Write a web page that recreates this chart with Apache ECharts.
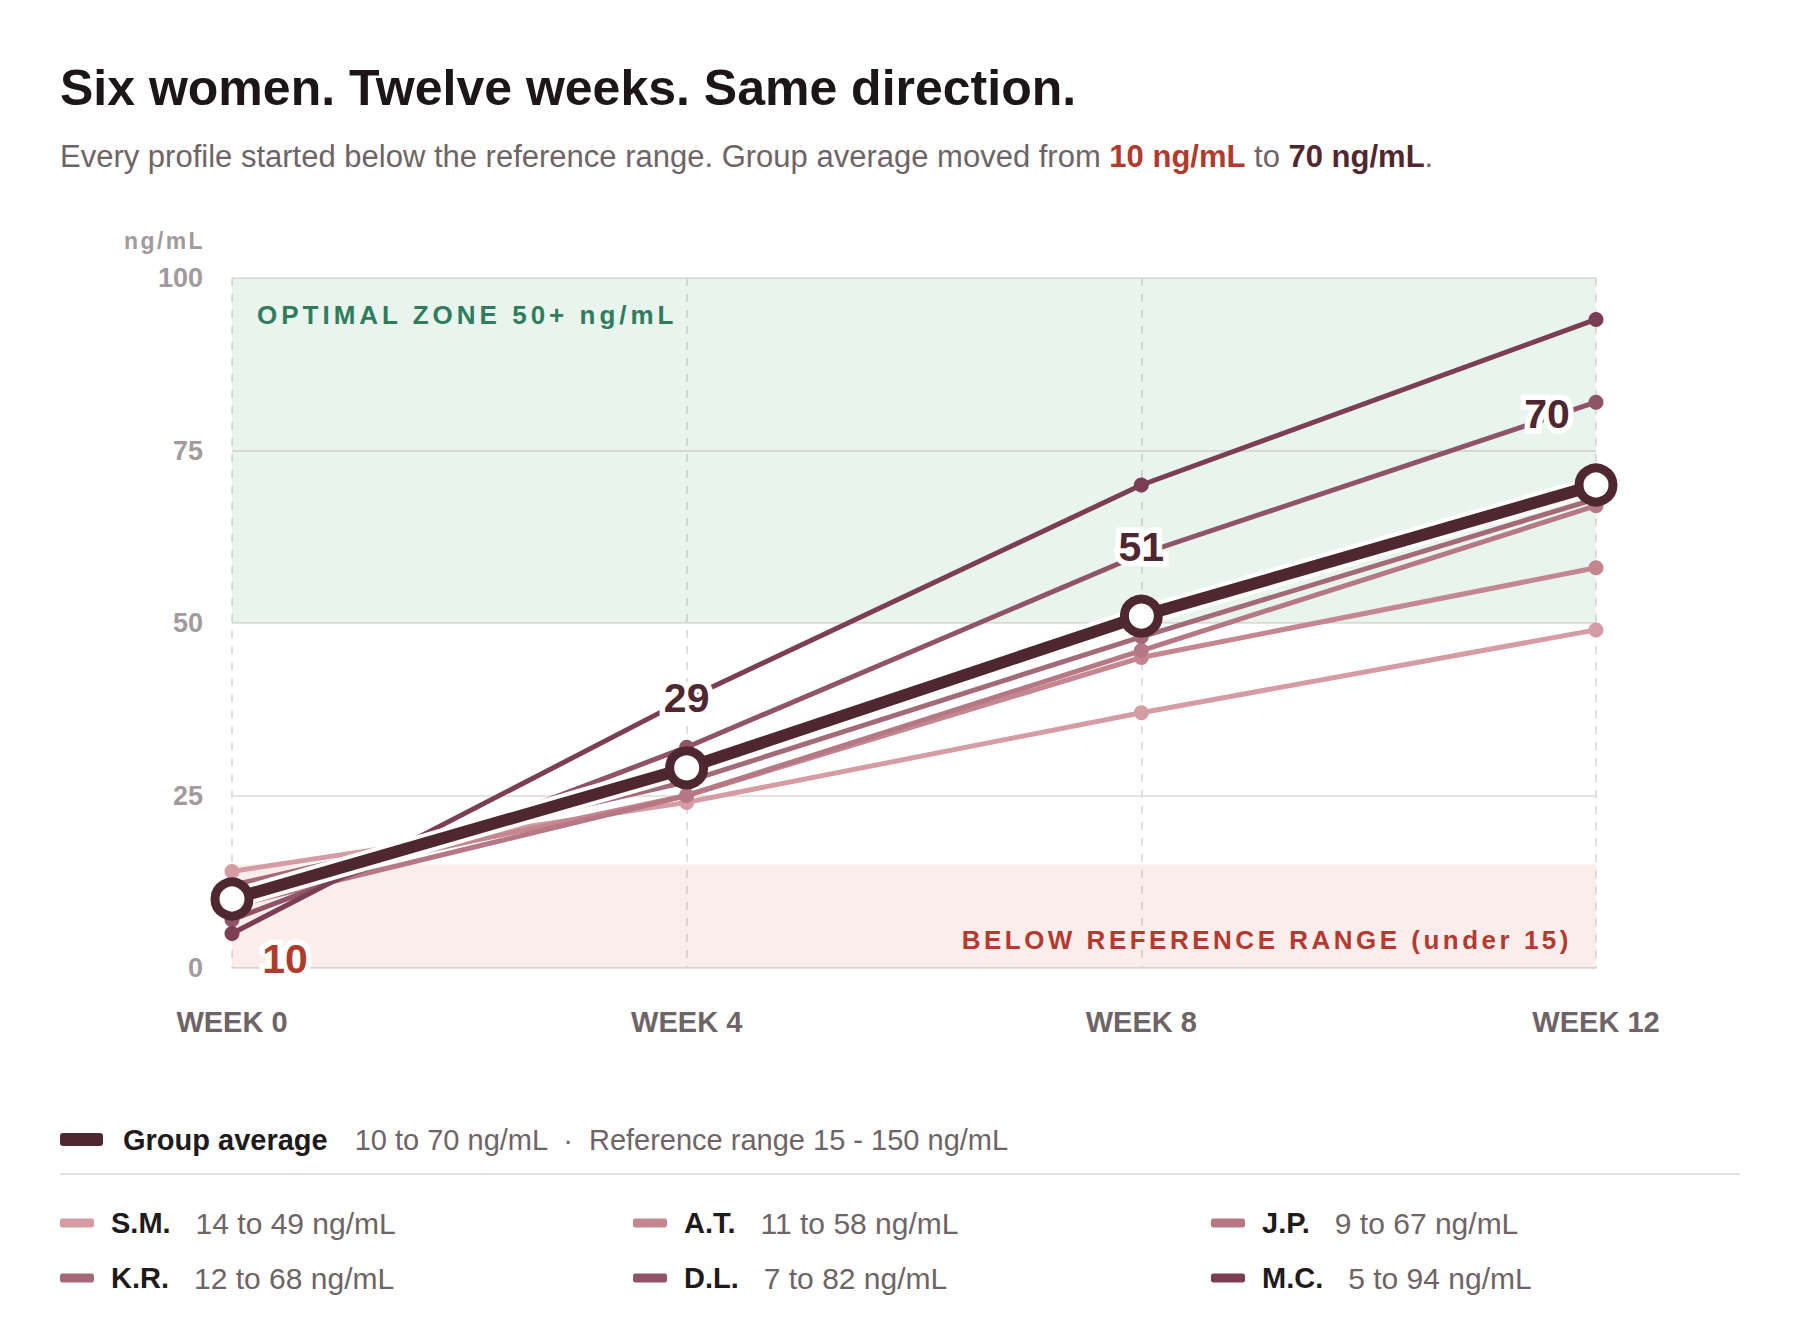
<!DOCTYPE html>
<html>
<head>
<meta charset="utf-8">
<script src="https://cdn.jsdelivr.net/npm/echarts@6/dist/echarts.min.js"></script>
<style>
  html, body { margin: 0; padding: 0; background: #ffffff; }
  #chart { width: 1800px; height: 1344px; }
  svg text[fill="#2f7d5c"] { letter-spacing: 4px; }
  svg text[fill="#b4392f"] { letter-spacing: 3.5px; }
  svg text[fill="#a29a9e"] { letter-spacing: 2.4px; }
</style>
</head>
<body>
<div id="chart"></div>
<script>
// ---------- data ----------
const weeks = ['WEEK 0', 'WEEK 4', 'WEEK 8', 'WEEK 12'];
const yTicks = [0, 25, 50, 75, 100];
const smValues = [14, 24, 37, 49];
const atValues = [11, 25, 45, 58];
const jpValues = [9, 25, 46, 67];
const krValues = [12, 27, 48, 68];
const dlValues = [7, 32, 60, 82];
const mcValues = [5, 39, 70, 94];
const avgValues = [10, 29, 51, 70];
const optimalZone = [50, 100];
const belowZone = [0, 15];
const referenceRange = [15, 150];
const unit = 'ng/mL';
const profileNames = ['S.M.', 'A.T.', 'J.P.', 'K.R.', 'D.L.', 'M.C.'];
const profileValues = [smValues, atValues, jpValues, krValues, dlValues, mcValues];

// ---------- styles ----------
const FONT = "'Liberation Sans', Arial, Helvetica, sans-serif";
const profileColors = ['#d59ca4', '#c4868f', '#b67884', '#a46a78', '#8f5467', '#7b3e54'];
const avgColor = '#4e2730';
const labelOffsets = [[53, 60], [0, -70], [0, -69], [-49, -71]];
const labelColors = ['#b03a2e', avgColor, avgColor, avgColor];

const chart = echarts.init(document.getElementById('chart'), null, { renderer: 'svg', width: 1800, height: 1344 });

const rangeText = (arr) => arr[0] + ' to ' + arr[arr.length - 1] + ' ' + unit;

const series = profileValues.map((vals, i) => ({
  name: profileNames[i],
  type: 'line',
  data: vals,
  symbol: 'circle',
  symbolSize: 15,
  z: 3 + i,
  lineStyle: { width: 5, color: profileColors[i] },
  itemStyle: { color: profileColors[i] },
  emphasis: { disabled: true },
  label: { show: false }
}));

// zones attached to first series (semi-transparent so grid lines show through)
series[0].markArea = {
  silent: true,
  data: [
    [
      { yAxis: optimalZone[0], itemStyle: { color: 'rgba(40,140,80,0.098)' },
        label: { show: true, position: [25, 24], formatter: 'OPTIMAL ZONE ' + optimalZone[0] + '+ ' + unit,
          color: '#2f7d5c', fontSize: 26, fontWeight: 'bold', fontFamily: FONT, align: 'left', verticalAlign: 'top' } },
      { yAxis: optimalZone[1] }
    ],
    [
      { yAxis: belowZone[0], itemStyle: { color: 'rgba(220,50,50,0.09)' },
        label: { show: true, position: 'insideBottomRight', distance: 15, offset: [-9, 0],
          formatter: 'BELOW REFERENCE RANGE (under ' + belowZone[1] + ')',
          color: '#b4392f', fontSize: 26, fontWeight: 'bold', fontFamily: FONT } },
      { yAxis: belowZone[1] }
    ]
  ]
};

// white halo under the average line
series.push({
  name: 'avg-halo',
  type: 'line',
  data: avgValues,
  symbol: 'none',
  z: 10,
  silent: true,
  lineStyle: { width: 20, color: '#ffffff' },
  emphasis: { disabled: true }
});

series.push({
  name: 'Group average',
  type: 'line',
  data: avgValues.map((v, i) => ({
    value: v,
    label: {
      show: true,
      position: 'inside',
      offset: labelOffsets[i],
      color: labelColors[i],
      fontSize: 41,
      fontWeight: 'bold',
      fontFamily: FONT,
      textBorderColor: '#ffffff',
      textBorderWidth: 11,
      formatter: '{c}'
    }
  })),
  symbol: 'circle',
  symbolSize: 34,
  z: 11,
  lineStyle: { width: 12, color: avgColor },
  itemStyle: { color: '#ffffff', borderColor: avgColor, borderWidth: 9 },
  emphasis: { disabled: true }
});

const legendRich = {
  n: { fontSize: 29, fontWeight: 'bold', color: '#1f1a1c', fontFamily: FONT, padding: [0, 0, 0, 12] },
  v: { fontSize: 30, fontWeight: 'normal', color: '#6e6468', fontFamily: FONT, padding: [0, 0, 0, 25] }
};

function profileLegend(i, left, top) {
  return {
    data: [profileNames[i]],
    left: left, top: top, padding: 0,
    icon: 'roundRect', itemWidth: 34, itemHeight: 9,
    selectedMode: false,
    itemStyle: { borderWidth: 0 },
    formatter: (name) => '{n|' + name + '}{v|' + rangeText(profileValues[profileNames.indexOf(name)]) + '}',
    textStyle: { rich: legendRich }
  };
}

const option = {
  animation: false,
  backgroundColor: '#ffffff',
  title: [
    {
      text: 'Six women. Twelve weeks. Same direction.',
      left: 60, top: 63, padding: 0,
      textStyle: { fontSize: 50, fontWeight: 'bold', color: '#1c1618', fontFamily: FONT }
    },
    {
      text: '{a|Every profile started below the reference range. Group average moved from }{r|' +
        avgValues[0] + ' ' + unit + '}{a| to }{d|' + avgValues[avgValues.length - 1] + ' ' + unit + '}{a|.}',
      left: 60, top: 141, padding: 0,
      textStyle: {
        fontWeight: 'normal',
        rich: {
          a: { fontSize: 31, fontWeight: 'normal', color: '#6e6468', fontFamily: FONT },
          r: { fontSize: 31, color: '#b03a2e', fontWeight: 'bold', fontFamily: FONT },
          d: { fontSize: 31, color: avgColor, fontWeight: 'bold', fontFamily: FONT }
        }
      }
    }
  ],
  grid: { left: 232, right: 204, top: 278, height: 690, containLabel: false },
  xAxis: {
    type: 'category',
    data: weeks,
    boundaryGap: false,
    axisLine: { show: true, lineStyle: { color: '#e3dde0', width: 2 } },
    axisTick: { show: false },
    axisLabel: { margin: 39, fontSize: 29, fontWeight: 'bold', color: '#6e6468', fontFamily: FONT },
    splitLine: { show: true, lineStyle: { type: [8, 8], color: '#e4dee1', width: 2 } }
  },
  yAxis: {
    type: 'value',
    min: yTicks[0], max: yTicks[yTicks.length - 1], interval: yTicks[1] - yTicks[0],
    name: unit,
    nameLocation: 'end',
    nameGap: 37,
    nameTextStyle: { align: 'right', verticalAlign: 'middle', padding: [0, 27, 0, 0],
      fontSize: 23, fontWeight: 'bold', color: '#a29a9e', fontFamily: FONT },
    axisLine: { show: false },
    axisTick: { show: false },
    axisLabel: { margin: 29, fontSize: 27, fontWeight: 'bold', color: '#a39a9e', fontFamily: FONT },
    splitLine: { show: true, lineStyle: { color: '#e8e2e4', width: 2 } }
  },
  legend: [
    {
      data: [{ name: 'Group average', itemStyle: { color: avgColor, borderWidth: 0 } }],
      left: 60, top: 1125, padding: 0,
      icon: 'roundRect', itemWidth: 43, itemHeight: 13,
      selectedMode: false,
      formatter: () => '{n|Group average}{v|' + rangeText(avgValues) + '  \u00b7  Reference range ' +
        referenceRange[0] + ' - ' + referenceRange[1] + ' ' + unit + '}',
      textStyle: { rich: {
        n: { fontSize: 29, fontWeight: 'bold', color: '#1f1a1c', fontFamily: FONT, padding: [0, 0, 0, 15] },
        v: { fontSize: 29, fontWeight: 'normal', color: '#6e6468', fontFamily: FONT, padding: [0, 0, 0, 27] }
      } }
    },
    profileLegend(0, 60, 1208),
    profileLegend(3, 60, 1263),
    profileLegend(1, 633, 1208),
    profileLegend(4, 633, 1263),
    profileLegend(2, 1211, 1208),
    profileLegend(5, 1211, 1263)
  ],
  graphic: [
    { type: 'line', silent: true, shape: { x1: 60, y1: 1174, x2: 1740, y2: 1174 },
      style: { stroke: '#e5e0e2', lineWidth: 2 } }
  ],
  series: series
};

chart.setOption(option);
</script>
</body>
</html>
